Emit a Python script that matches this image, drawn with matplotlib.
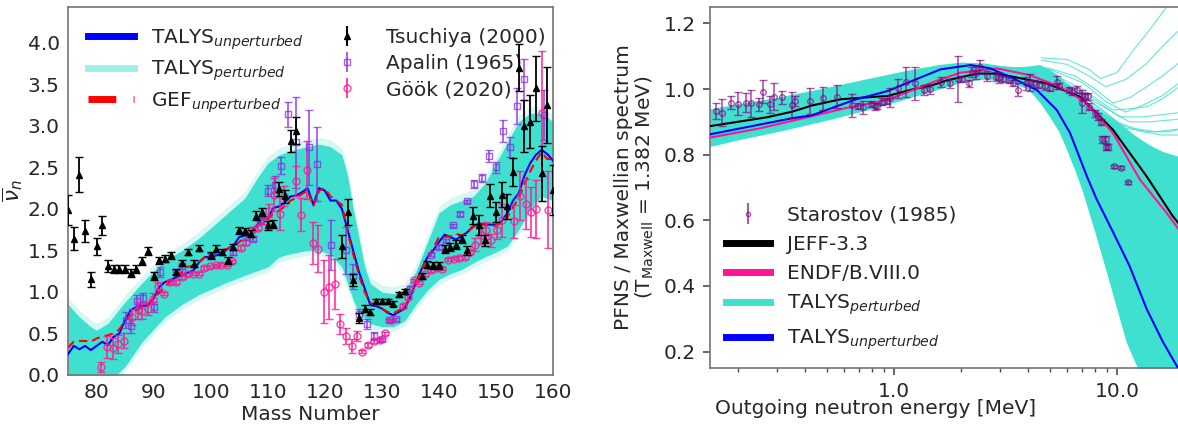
import numpy as np
import matplotlib
matplotlib.use("Agg")
import matplotlib.pyplot as plt
from matplotlib.ticker import FormatStrFormatter, FixedLocator

# ---------------- left panel: nu-bar vs mass number ----------------
tsu_A = [75, 76, 77, 78, 79, 80, 81, 82, 83, 84, 85, 86, 87, 88, 89, 90, 91, 92, 93, 94,
         95, 96, 97, 98, 100, 101, 102, 103, 104, 105, 106, 107, 108, 109, 110, 111, 112,
         113, 114, 115, 123, 124, 125, 126, 127, 128, 129, 130, 131, 132, 133, 134, 137,
         138, 139, 140, 141, 142, 143, 144, 145, 146, 147, 148, 149, 150, 151, 152, 153,
         154, 155, 156, 157, 158, 159, 160]
tsu_nu = [1.99, 1.64, 2.41, 1.73, 1.15, 1.55, 1.80, 1.31, 1.28, 1.28, 1.28, 1.23, 1.28, 1.37,
          1.49, 1.19, 1.38, 1.40, 1.44, 1.24, 1.35, 1.48, 1.34, 1.53, 1.44, 1.52, 1.48, 1.38,
          1.54, 1.74, 1.73, 1.70, 1.92, 1.96, 1.80, 1.82, 2.24, 2.15, 2.82, 2.94, 1.55, 1.96,
          1.14, 0.69, 0.80, 0.76, 0.89, 0.89, 0.89, 0.86, 0.97, 1.01, 1.19, 1.33, 1.32, 1.32,
          1.52, 1.54, 1.57, 1.64, 1.50, 1.92, 1.81, 1.62, 2.16, 1.96, 2.17, 2.03, 2.44, 3.70,
          3.00, 3.05, 3.45, 2.43, 3.25, 2.23]
tsu_err = [0.18, 0.14, 0.21, 0.13, 0.09, 0.10, 0.11, 0.07, 0.05, 0.05, 0.05, 0.05, 0.05, 0.05,
           0.05, 0.05, 0.04, 0.04, 0.04, 0.04, 0.04, 0.04, 0.04, 0.04, 0.04, 0.04, 0.04, 0.04,
           0.04, 0.04, 0.04, 0.04, 0.05, 0.05, 0.05, 0.05, 0.08, 0.08, 0.13, 0.16, 0.14, 0.16,
           0.07, 0.06, 0.04, 0.04, 0.03, 0.03, 0.03, 0.03, 0.03, 0.03, 0.04, 0.04, 0.04, 0.04,
           0.05, 0.05, 0.05, 0.05, 0.05, 0.10, 0.12, 0.07, 0.14, 0.12, 0.15, 0.15, 0.17, 0.28,
           0.31, 0.32, 0.39, 0.33, 0.46, 0.30]

apa_A = [85.1, 86.1, 87.1, 88.1, 90.1, 91.2, 93.9, 95.0, 100.0, 103.9, 106.2, 107.5, 108.6,
         110.0, 111.2, 112.4, 113.6, 114.9, 117.3, 118.6, 121.1, 123.7, 124.9, 126.0, 127.4,
         128.7, 130.0, 131.3, 132.5, 135.0, 138.7, 140.0, 141.2, 142.4, 143.7, 144.9, 146.2,
         147.5, 148.8, 150.0, 151.2, 152.5, 153.7, 155.0, 158.5]
apa_nu = [0.66, 0.59, 0.89, 0.93, 0.82, 1.24, 1.24, 1.31, 1.44, 1.48, 1.66, 1.64, 1.86, 2.22,
          2.29, 2.52, 3.14, 2.80, 2.74, 2.54, 1.57, 1.50, 1.19, 0.73, 0.61, 0.47, 0.43, 0.66,
          0.67, 1.04, 1.45, 1.54, 1.62, 1.80, 1.94, 2.09, 2.30, 2.37, 2.64, 2.50, 2.94, 2.74,
          3.24, 3.56, 3.13]
apa_err = [0.10, 0.08, 0.07, 0.06, 0.06, 0.06, 0.03, 0.03, 0.03, 0.03, 0.03, 0.03, 0.04, 0.07,
           0.10, 0.10, 0.15, 0.55, 0.45, 0.45, 0.30, 0.28, 0.15, 0.06, 0.06, 0.05, 0.02, 0.02,
           0.02, 0.03, 0.02, 0.02, 0.02, 0.02, 0.02, 0.02, 0.05, 0.05, 0.07, 0.07, 0.13, 0.12,
           0.22, 0.25, 0.30]

gook_A = [80.8, 81.9, 82.8, 83.8, 84.9, 86.3, 87.2, 88.0, 89.0, 89.9, 90.8, 91.9, 92.9, 93.9,
          94.9, 95.9, 96.9, 97.9, 98.9, 99.9, 100.9, 101.8, 102.8, 103.8, 105.3, 106.2, 107.3,
          108.3, 109.3, 110.2, 111.1, 112.1, 112.9, 114.9, 115.9, 116.9, 117.9, 118.8, 119.8,
          120.8, 121.8, 122.7, 123.7, 124.7, 125.6, 126.6, 127.6, 128.6, 129.6, 130.6, 131.6,
          133.7, 134.6, 135.6, 136.6, 137.6, 138.6, 139.6, 140.6, 141.6, 142.6, 143.6, 144.6,
          145.4, 146.3, 147.3, 148.2, 149.2, 150.2, 151.1, 153.1, 154.2, 155.2, 156.2, 157.1,
          158.1, 159.1]
gook_nu = [0.10, 0.34, 0.32, 0.37, 0.41, 0.70, 0.78, 0.77, 0.80, 0.92, 1.07, 0.98, 1.12, 1.12,
           1.18, 1.21, 1.22, 1.22, 1.29, 1.31, 1.32, 1.33, 1.33, 1.37, 1.53, 1.60, 1.75, 1.77,
           1.85, 1.98, 2.17, 1.94, 2.15, 2.33, 1.93, 2.47, 1.59, 1.52, 1.00, 1.06, 1.10, 0.61,
           0.47, 0.35, 0.47, 0.28, 0.36, 0.41, 0.42, 0.50, 0.66, 0.83, 0.94, 1.14, 1.11, 1.21,
           1.26, 1.29, 1.28, 1.39, 1.40, 1.41, 1.42, 1.48, 1.57, 1.68, 1.74, 1.62, 1.74, 1.86,
           1.85, 2.16, 2.06, 1.96, 2.00, 3.15, 1.99]
gook_err = [0.06, 0.13, 0.13, 0.11, 0.09, 0.10, 0.10, 0.09, 0.08, 0.07, 0.05, 0.02, 0.02, 0.02,
            0.02, 0.02, 0.02, 0.02, 0.02, 0.02, 0.02, 0.02, 0.02, 0.02, 0.03, 0.03, 0.03, 0.03,
            0.03, 0.08, 0.20, 0.20, 0.12, 0.18, 0.20, 0.35, 0.25, 0.28, 0.38, 0.38, 0.30, 0.12,
            0.10, 0.08, 0.06, 0.02, 0.02, 0.02, 0.02, 0.02, 0.02, 0.02, 0.02, 0.02, 0.02, 0.02,
            0.02, 0.02, 0.02, 0.02, 0.02, 0.02, 0.02, 0.02, 0.08, 0.10, 0.10, 0.08, 0.10, 0.20,
            0.20, 0.30, 0.30, 0.30, 0.35, 0.75, 0.46]

model_A = list(range(75, 161))
talys_nu = [0.25, 0.35, 0.31, 0.35, 0.30, 0.35, 0.40, 0.36, 0.46, 0.50, 0.66, 0.78, 0.82, 0.83,
            0.84, 0.92, 1.06, 1.12, 1.14, 1.18, 1.20, 1.23, 1.26, 1.36, 1.42, 1.42, 1.44, 1.46,
            1.52, 1.56, 1.66, 1.68, 1.71, 1.79, 1.88, 1.89, 2.01, 2.03, 2.08, 2.15, 2.16, 2.20,
            2.25, 2.05, 2.25, 2.22, 2.10, 2.10, 2.00, 1.75, 1.49, 1.24, 1.04, 0.84, 0.83, 0.80,
            0.75, 0.72, 0.76, 0.80, 0.94, 1.12, 1.28, 1.42, 1.50, 1.60, 1.69, 1.66, 1.63, 1.67,
            1.72, 1.79, 1.82, 1.81, 1.81, 1.81, 1.85, 1.95, 2.10, 2.19, 2.40, 2.55, 2.65, 2.71,
            2.66, 2.58]
gef_nu = [0.33, 0.40, 0.41, 0.41, 0.40, 0.44, 0.46, 0.48, 0.50, 0.55, 0.65, 0.72, 0.78, 0.82,
          0.86, 0.92, 0.99, 1.07, 1.12, 1.18, 1.24, 1.30, 1.32, 1.36, 1.42, 1.45, 1.48, 1.50,
          1.52, 1.55, 1.60, 1.65, 1.70, 1.78, 1.84, 1.87, 1.95, 1.98, 2.03, 2.10, 2.13, 2.18,
          2.22, 2.03, 2.22, 2.25, 2.15, 2.10, 2.05, 1.72, 1.45, 1.20, 1.00, 0.87, 0.84, 0.80,
          0.76, 0.74, 0.78, 0.82, 0.95, 1.12, 1.27, 1.41, 1.52, 1.66, 1.66, 1.67, 1.70, 1.68,
          1.72, 1.78, 1.82, 1.82, 1.79, 1.80, 1.83, 1.90, 2.02, 2.13, 2.30, 2.45, 2.58, 2.68,
          2.60, 2.60]

band_A = [75, 77, 79, 80, 82, 85, 88, 90, 92, 95, 98, 100, 103, 106, 108, 110, 112, 114, 117,
          119, 121, 123, 124, 125, 126, 127, 128, 130, 132, 134, 136, 138, 140, 142, 144, 146,
          148, 150, 152, 154, 156, 158, 160]
band_lo = [-0.2, -0.2, -0.2, -0.2, -0.1, 0.1, 0.4, 0.55, 0.7, 0.85, 0.97, 1.03, 1.12, 1.2,
           1.25, 1.3, 1.42, 1.46, 1.5, 1.5, 1.45, 1.3, 1.1, 0.9, 0.75, 0.68, 0.62, 0.58, 0.58,
           0.65, 0.85, 1.02, 1.15, 1.22, 1.27, 1.35, 1.42, 1.48, 1.55, 1.75, 2.0, 2.15, 2.1]
band_hi = [0.85, 0.7, 0.58, 0.54, 0.62, 0.88, 1.11, 1.25, 1.38, 1.5, 1.65, 1.77, 1.95, 2.13,
           2.35, 2.55, 2.65, 2.7, 2.75, 2.78, 2.75, 2.65, 2.4, 2.0, 1.65, 1.3, 1.1, 1.0, 0.98,
           1.02, 1.25, 1.6, 1.95, 2.05, 2.1, 2.15, 2.3, 2.55, 2.8, 3.05, 3.15, 3.15, 3.05]

# ---------------- right panel: PFNS ratio ----------------
star_E = [0.159, 0.169, 0.186, 0.200, 0.218, 0.230, 0.248, 0.258, 0.278, 0.290, 0.316, 0.351,
          0.359, 0.419, 0.482, 0.556, 0.647, 0.689, 0.730, 0.790, 0.820, 0.837, 0.890, 0.930,
          0.957, 1.04, 1.13, 1.25, 1.37, 1.46, 1.62, 1.78, 1.94, 2.03, 2.17, 2.25, 2.33, 2.43,
          2.62, 2.86, 2.96, 3.10, 3.30, 3.44, 3.60, 3.90, 4.10, 4.25, 4.50, 4.78, 5.00, 5.40,
          5.50, 6.10, 6.30, 6.60, 7.00, 7.00, 7.20, 7.40, 7.50, 7.98, 8.20, 8.45, 8.60, 8.90,
          8.90, 9.10, 9.70, 10.4, 11.2]
star_y = [0.934, 0.928, 0.959, 0.955, 0.959, 0.956, 0.953, 0.992, 0.953, 0.977, 0.975, 0.952,
          0.964, 0.964, 0.972, 0.976, 0.950, 0.948, 0.945, 0.955, 0.947, 0.948, 0.962, 0.963,
          0.974, 1.002, 1.022, 1.017, 0.997, 1.000, 1.022, 1.017, 1.032, 1.030, 1.017, 1.052,
          1.050, 1.068, 1.040, 1.038, 1.033, 1.030, 1.027, 1.019, 0.998, 1.017, 1.020, 1.017,
          1.013, 1.008, 1.004, 1.020, 1.009, 0.997, 0.992, 0.998, 0.982, 0.957, 0.978, 0.978,
          0.946, 0.926, 0.916, 0.900, 0.847, 0.847, 0.824, 0.824, 0.765, 0.760, 0.716]
star_err = [0.025, 0.042, 0.020, 0.035, 0.030, 0.040, 0.020, 0.035, 0.025, 0.040, 0.020, 0.040,
            0.015, 0.040, 0.035, 0.035, 0.035, 0.010, 0.020, 0.010, 0.010, 0.010, 0.010, 0.010,
            0.030, 0.030, 0.045, 0.050, 0.015, 0.015, 0.015, 0.015, 0.070, 0.010, 0.010, 0.015,
            0.020, 0.020, 0.015, 0.015, 0.015, 0.010, 0.010, 0.010, 0.020, 0.020, 0.025, 0.010,
            0.010, 0.010, 0.010, 0.020, 0.010, 0.010, 0.010, 0.010, 0.015, 0.030, 0.010, 0.010,
            0.010, 0.010, 0.010, 0.010, 0.010, 0.010, 0.010, 0.010, 0.005, 0.005, 0.005]

jeff_E = [0.15, 0.27, 0.35, 0.43, 0.58, 0.665, 0.94, 1.23, 1.46, 1.74, 2.36, 2.9, 3.44, 4.86,
          6.83, 9.6, 13.6, 17.8, 20.0]
jeff_y = [0.887, 0.914, 0.931, 0.95, 0.969, 0.972, 0.979, 1.0, 1.01, 1.027, 1.047, 1.047,
          1.037, 1.017, 0.977, 0.876, 0.734, 0.613, 0.57]
endf_E = [0.15, 0.25, 0.41, 0.6, 0.94, 1.51, 1.99, 2.36, 2.9, 4.09, 5.56, 7.34, 9.6, 12.7,
          16.7, 20.0]
endf_y = [0.852, 0.88, 0.914, 0.941, 0.967, 1.022, 1.05, 1.055, 1.063, 1.042, 1.007, 0.957,
          0.866, 0.724, 0.623, 0.55]
tal_E = [0.15, 0.35, 0.43, 0.665, 0.94, 1.23, 1.62, 2.21, 2.71, 3.44, 4.38, 5.38, 6.17, 7.34,
         8.12, 9.0, 9.63, 11.4, 13.6, 16.1, 18.5, 20.0]
tal_y = [0.862, 0.911, 0.92, 0.967, 0.994, 1.027, 1.06, 1.073, 1.063, 1.032, 0.997, 0.936,
         0.866, 0.734, 0.664, 0.603, 0.563, 0.461, 0.33, 0.229, 0.158, 0.12]

pb_E = [0.15, 0.2, 0.3, 0.5, 0.8, 1.2, 1.6, 2.0, 2.5, 3.0, 3.5, 4.0, 4.5, 5.0, 5.5, 6.0, 6.5,
        7.0, 8.0, 9.0, 10.0, 11.0, 12.0, 12.6, 14.0, 16.0, 20.0]
pb_lo = [0.825, 0.845, 0.87, 0.905, 0.94, 0.975, 1.0, 1.02, 1.03, 1.025, 1.015, 1.0, 0.96,
         0.915, 0.87, 0.81, 0.75, 0.69, 0.56, 0.44, 0.33, 0.23, 0.17, 0.14, 0.0, 0.0, 0.0]
pb_hi = [0.94, 0.955, 0.975, 1.005, 1.035, 1.06, 1.075, 1.082, 1.08, 1.072, 1.068, 1.07,
         1.075, 1.06, 1.04, 1.015, 0.99, 0.97, 0.94, 0.92, 0.9, 0.88, 0.86, 0.85, 0.83,
         0.81, 0.79]

# sparse ensemble members that wander off the band at high energy
out_E = [[4.6, 6.0, 7.5, 8.45, 10.0, 11.85, 14.0, 16.7, 20.0],
         [4.6, 6.0, 7.5, 8.9, 11.0, 13.6, 16.0, 19.0, 20.0],
         [4.86, 6.5, 8.0, 9.6, 11.5, 13.6, 16.0, 19.0, 20.0],
         [5.0, 7.0, 9.6, 11.5, 13.6, 16.0, 19.0, 20.0],
         [5.0, 7.5, 10.3, 13.0, 16.0, 20.0],
         [5.5, 8.0, 11.4, 14.0, 17.0, 20.0],
         [5.0, 7.0, 9.0, 11.0, 13.0, 16.0, 20.0],
         [5.5, 8.0, 10.0, 12.0, 15.0, 20.0],
         [6.0, 8.5, 10.5, 13.0, 16.0, 20.0],
         [6.0, 9.0, 11.0, 14.0, 17.0, 20.0]]
out_y = [[1.095, 1.09, 1.06, 1.032, 1.05, 1.118, 1.18, 1.25, 1.32],
         [1.088, 1.075, 1.04, 1.007, 1.03, 1.078, 1.13, 1.18, 1.19],
         [1.065, 1.04, 1.0, 0.957, 0.975, 1.007, 1.04, 1.08, 1.09],
         [1.05, 1.0, 0.936, 0.94, 0.946, 0.97, 1.007, 1.015],
         [1.045, 0.98, 0.915, 0.915, 0.922, 0.93],
         [1.03, 0.96, 0.9, 0.9, 0.905, 0.91],
         [1.06, 1.02, 0.96, 0.93, 0.95, 0.98, 1.03],
         [1.03, 0.95, 0.9, 0.88, 0.87, 0.88],
         [1.01, 0.94, 0.89, 0.87, 0.86, 0.86],
         [1.0, 0.92, 0.88, 0.87, 0.87, 0.88]]

TURQ = "#40e0d0"
TXT = "#262626"
FS = 14.5

plt.rcParams.update({
    "font.family": "DejaVu Sans",
    "font.size": FS,
    "text.color": TXT,
    "axes.labelcolor": TXT,
    "xtick.color": TXT,
    "ytick.color": TXT,
    "axes.edgecolor": "0.45",
    "axes.linewidth": 1.2,
})

fig = plt.figure(figsize=(11.78, 4.29), dpi=100)

# ---------------- left ----------------
ax = fig.add_axes([68 / 1178, 54 / 429, 485 / 1178, 368 / 429])
ax.fill_between(band_A, np.array(band_lo) - 0.06, np.array(band_hi) + 0.08,
                color=TURQ, alpha=0.22, lw=0, zorder=1)
ax.fill_between(band_A, band_lo, band_hi, color=TURQ, lw=0, zorder=1)
ax.plot(model_A, talys_nu, color="blue", lw=1.5, zorder=3)
ax.plot(model_A, gef_nu, color="red", lw=1.5, ls=(0, (4, 2.5)), zorder=4)

ax.errorbar(tsu_A, tsu_nu, yerr=tsu_err, fmt="^", ms=4, color="black", mfc="black",
            ecolor="black", elinewidth=1.3, capsize=3, zorder=6)
ax.errorbar(apa_A, apa_nu, yerr=apa_err, fmt="s", ms=5, color="blueviolet", mfc="none",
            ecolor="blueviolet", elinewidth=1.3, capsize=3, alpha=0.75, zorder=5)
ax.errorbar(gook_A, gook_nu, yerr=gook_err, fmt="o", ms=5, color="deeppink", mfc="none",
            ecolor="deeppink", elinewidth=1.3, capsize=3, alpha=0.8, zorder=5)

ax.set_xlim(75, 160)
ax.set_ylim(0, 4.43)
ax.set_xticks(range(80, 161, 10))
ax.set_yticks(np.arange(0, 4.01, 0.5))
ax.yaxis.set_major_formatter(FormatStrFormatter("%.1f"))
ax.tick_params(length=0, pad=6, labelsize=FS)
ax.set_xlabel("Mass Number", fontsize=FS, labelpad=2)
ax.set_ylabel(r"$\overline{\nu}_n$", fontsize=FS + 1)
ax.yaxis.set_label_coords(-0.088, 0.5)

h1, = ax.plot([], [], color="blue", lw=5)
h2, = ax.plot([], [], color=TURQ, lw=5, alpha=0.5)
h3, = ax.plot([], [], color="red", lw=5, ls=(0, (4, 2.5)))
h4 = ax.errorbar([], [], yerr=[], fmt="^", ms=4, color="black", capsize=3)
h5 = ax.errorbar([], [], yerr=[], fmt="s", ms=5, color="blueviolet", mfc="none", capsize=3,
                 alpha=0.75)
h6 = ax.errorbar([], [], yerr=[], fmt="o", ms=5, color="deeppink", mfc="none", capsize=3,
                 alpha=0.8)
ax.legend([h1, h2, h3, h4, h5, h6],
          [r"TALYS$_{unperturbed}$", r"TALYS$_{perturbed}$", r"GEF$_{unperturbed}$",
           "Tsuchiya (2000)", "Apalin (1965)", r"Göök (2020)"],
          ncol=2, loc="upper left", bbox_to_anchor=(0.0, 1.0), frameon=False,
          fontsize=FS, handlelength=2.3, columnspacing=1.0, labelspacing=0.35,
          borderaxespad=0.6)

# ---------------- right ----------------
bx = fig.add_axes([710 / 1178, 61 / 429, 474 / 1178, 361 / 429])
bx.set_xscale("log")
bx.fill_between(pb_E, pb_lo, pb_hi, color=TURQ, lw=0, zorder=1)
for e, y in zip(out_E, out_y):
    bx.plot(e, y, color=TURQ, lw=0.8, alpha=0.8, zorder=1)
bx.plot(jeff_E, jeff_y, color="black", lw=1.5, zorder=3)
bx.plot(endf_E, endf_y, color="deeppink", lw=1.5, zorder=3)
bx.plot(tal_E, tal_y, color="blue", lw=1.5, zorder=3)
bx.errorbar(star_E, star_y, yerr=star_err, fmt="o", ms=4, color="purple", mfc="none",
            ecolor="purple", elinewidth=1.2, capsize=3, alpha=0.65, zorder=5)

bx.set_xlim(0.15, 20)
bx.set_ylim(0.15, 1.25)
bx.set_yticks(np.arange(0.2, 1.21, 0.2))
bx.yaxis.set_major_formatter(FormatStrFormatter("%.1f"))
bx.xaxis.set_major_locator(FixedLocator([1.0, 10.0]))
bx.xaxis.set_major_formatter(FormatStrFormatter("%.1f"))
bx.tick_params(which="major", length=5, width=1.2, color="0.3", labelsize=FS, pad=5)
bx.tick_params(which="minor", length=3, width=1.0, color="0.3")
bx.spines["right"].set_visible(False)
bx.set_xlabel("Outgoing neutron energy [MeV]", fontsize=FS)
bx.xaxis.set_label_coords(0.35, -0.085)
bx.set_ylabel("PFNS / Maxwellian spectrum\n" + r"(T$_{\rm Maxwell}$ = 1.382 MeV)",
              fontsize=FS, labelpad=6, linespacing=1.0)

g1 = bx.errorbar([], [], yerr=[], fmt="o", ms=3, color="purple", mfc="none", capsize=3,
                 alpha=0.65)
g2, = bx.plot([], [], color="black", lw=5)
g3, = bx.plot([], [], color="deeppink", lw=5)
g4, = bx.plot([], [], color=TURQ, lw=5)
g5, = bx.plot([], [], color="blue", lw=5)
bx.legend([g1, g2, g3, g4, g5],
          ["Starostov (1985)", "JEFF-3.3", "ENDF/B.VIII.0", r"TALYS$_{perturbed}$",
           r"TALYS$_{unperturbed}$"],
          loc="lower left", frameon=False, fontsize=FS, handlelength=2.2,
          labelspacing=0.5, borderaxespad=0.4)

fig.savefig("out.png", dpi=100)
